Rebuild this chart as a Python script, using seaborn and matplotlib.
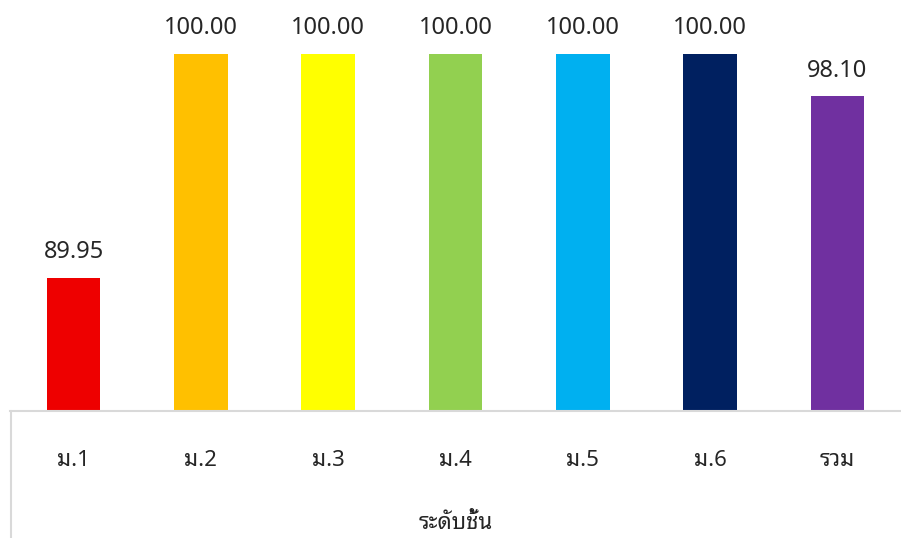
import matplotlib
matplotlib.use("Agg")
import matplotlib.pyplot as plt
from matplotlib.lines import Line2D
import pandas as pd
import seaborn as sns

# data
levels = ["ม.1", "ม.2", "ม.3", "ม.4", "ม.5", "ม.6", "รวม"]
values = [89.95, 100.00, 100.00, 100.00, 100.00, 100.00, 98.10]
colors = ["#EE0000", "#FFC000", "#FFFF00", "#92D050",
          "#00B0F0", "#002060", "#7030A0"]
x_title = "ระดับชั้น"

sns.set_style("white")
plt.rcParams["font.family"] = ["Noto Sans Thai Looped", "Noto Sans",
                               "DejaVu Sans"]

df = pd.DataFrame({"level": levels, "value": values})

W, H = 901, 538
fig = plt.figure(figsize=(W / 100, H / 100), dpi=100)
ax = fig.add_axes([10 / W, (H - 411) / H, (W - 10) / W, (411 - 54) / H])

sns.barplot(data=df, x="level", y="value", hue="level",
            palette=colors, width=0.42, legend=False, ax=ax,
            saturation=1, linewidth=0)

ax.set_ylim(84, 100)
ax.set_xlim(-0.5, len(levels) - 0.5)
for cont in ax.containers:
    ax.bar_label(cont, fmt="%.2f", padding=10, fontsize=17,
                 color="#262626", fontweight="light", clip_on=False)

ax.set_yticks([])
ax.set_ylabel("")
ax.tick_params(axis="x", length=0, pad=28, labelsize=16,
               colors="#262626")
for lab in ax.get_xticklabels():
    lab.set_fontweight("light")
ax.set_xlabel(x_title, fontsize=16, color="#262626", labelpad=30,
              fontweight="light")
for side in ["left", "right", "top"]:
    ax.spines[side].set_visible(False)
ax.spines["bottom"].set_color("#D9D9D9")
ax.spines["bottom"].set_linewidth(1.5)

# vertical line at left, below the category axis
fig.add_artist(Line2D([10.5 / W, 10.5 / W], [0, (H - 411) / H],
                      color="#D9D9D9", lw=1.5,
                      transform=fig.transFigure))

fig.savefig("out.png", dpi=100)
